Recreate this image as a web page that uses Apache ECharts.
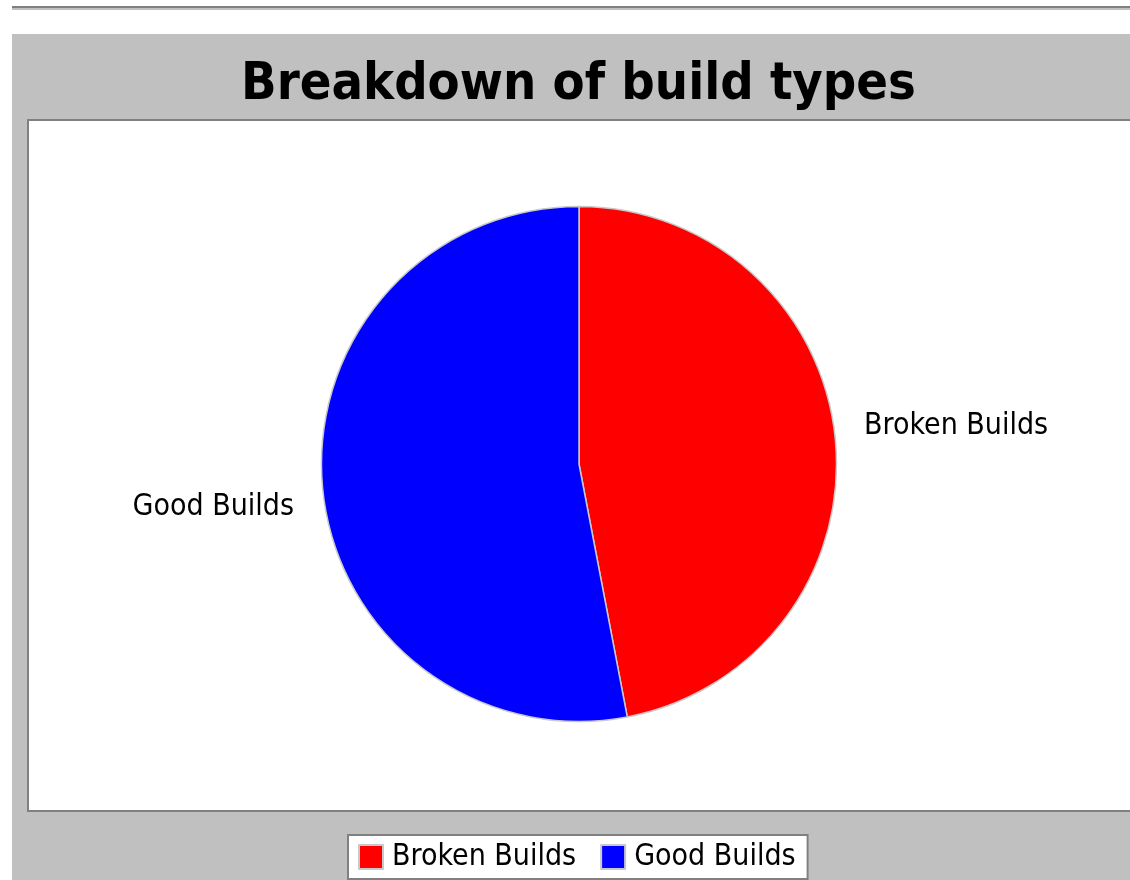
<!DOCTYPE html>
<html>
<head>
<meta charset="utf-8">
<script src="https://cdn.jsdelivr.net/npm/echarts@6/dist/echarts.min.js"></script>
<style>
html,body{margin:0;padding:0;background:#fff;}
#chart{width:1130px;height:880px;}
</style>
</head>
<body>
<div id="chart"></div>
<script>
const titleText = 'Breakdown of build types';
const categories = ['Broken Builds', 'Good Builds'];
const values = [47, 53];
const colors = ['#ff0000', '#0000ff'];

const chart = echarts.init(document.getElementById('chart'));
const total = values.reduce((a, b) => a + b, 0);
const midAngles = [];
let acc = 0;
values.forEach(v => { midAngles.push((acc + v / 2) / total * 2 * Math.PI); acc += v; });

const CX = 579, CY = 464, R = 257.5, LABEL_R = 430, LABEL_CY = 467;
const labelFont = 'DejaVu Sans Condensed';

chart.setOption({
  animation: false,
  graphic: [
    { type: 'rect', z: -10, shape: { x: 12, y: 6, width: 1118, height: 2 }, style: { fill: '#808080' } },
    { type: 'rect', z: -10, shape: { x: 12, y: 8, width: 1118, height: 2 }, style: { fill: '#c0c0c0' } },
    { type: 'rect', z: -10, shape: { x: 12, y: 34, width: 1118, height: 846 }, style: { fill: '#c0c0c0' } },
    { type: 'rect', z: -9, shape: { x: 28, y: 120, width: 1120, height: 691 }, style: { fill: '#ffffff', stroke: '#808080', lineWidth: 2 } }
  ],
  title: {
    text: titleText,
    left: 236,
    top: 54,
    textStyle: { fontFamily: labelFont, fontWeight: 'bold', fontSize: 52, color: '#000' }
  },
  legend: {
    data: categories,
    bottom: 1,
    left: 348,
    orient: 'horizontal',
    itemWidth: 24,
    itemHeight: 24,
    itemGap: 24,
    icon: 'rect',
    backgroundColor: '#ffffff',
    borderColor: '#808080',
    borderWidth: 2,
    borderRadius: 0,
    padding: [7, 12, 7, 10],
    textStyle: { fontFamily: labelFont, fontSize: 30, color: '#000', padding: [0, 0, 0, 4] }
  },
  series: [{
    type: 'pie',
    z: 2,
    center: [CX, CY],
    radius: [0, R],
    startAngle: 90,
    clockwise: true,
    avoidLabelOverlap: false,
    data: categories.map((c, i) => ({ name: c, value: values[i], itemStyle: { color: colors[i] } })),
    itemStyle: { borderColor: '#c8c8c8', borderWidth: 1.5 },
    label: {
      show: true,
      position: 'outside',
      formatter: '{b}',
      fontFamily: labelFont,
      fontSize: 30,
      color: '#000'
    },
    labelLine: { show: false },
    labelLayout: function (params) {
      const a = midAngles[params.dataIndex];
      const right = Math.sin(a) >= 0;
      return {
        x: right ? 864 : 294,
        y: LABEL_CY - LABEL_R * Math.cos(a),
        align: right ? 'left' : 'right',
        verticalAlign: 'middle'
      };
    },
    emphasis: { disabled: true }
  }]
});
</script>
</body>
</html>
